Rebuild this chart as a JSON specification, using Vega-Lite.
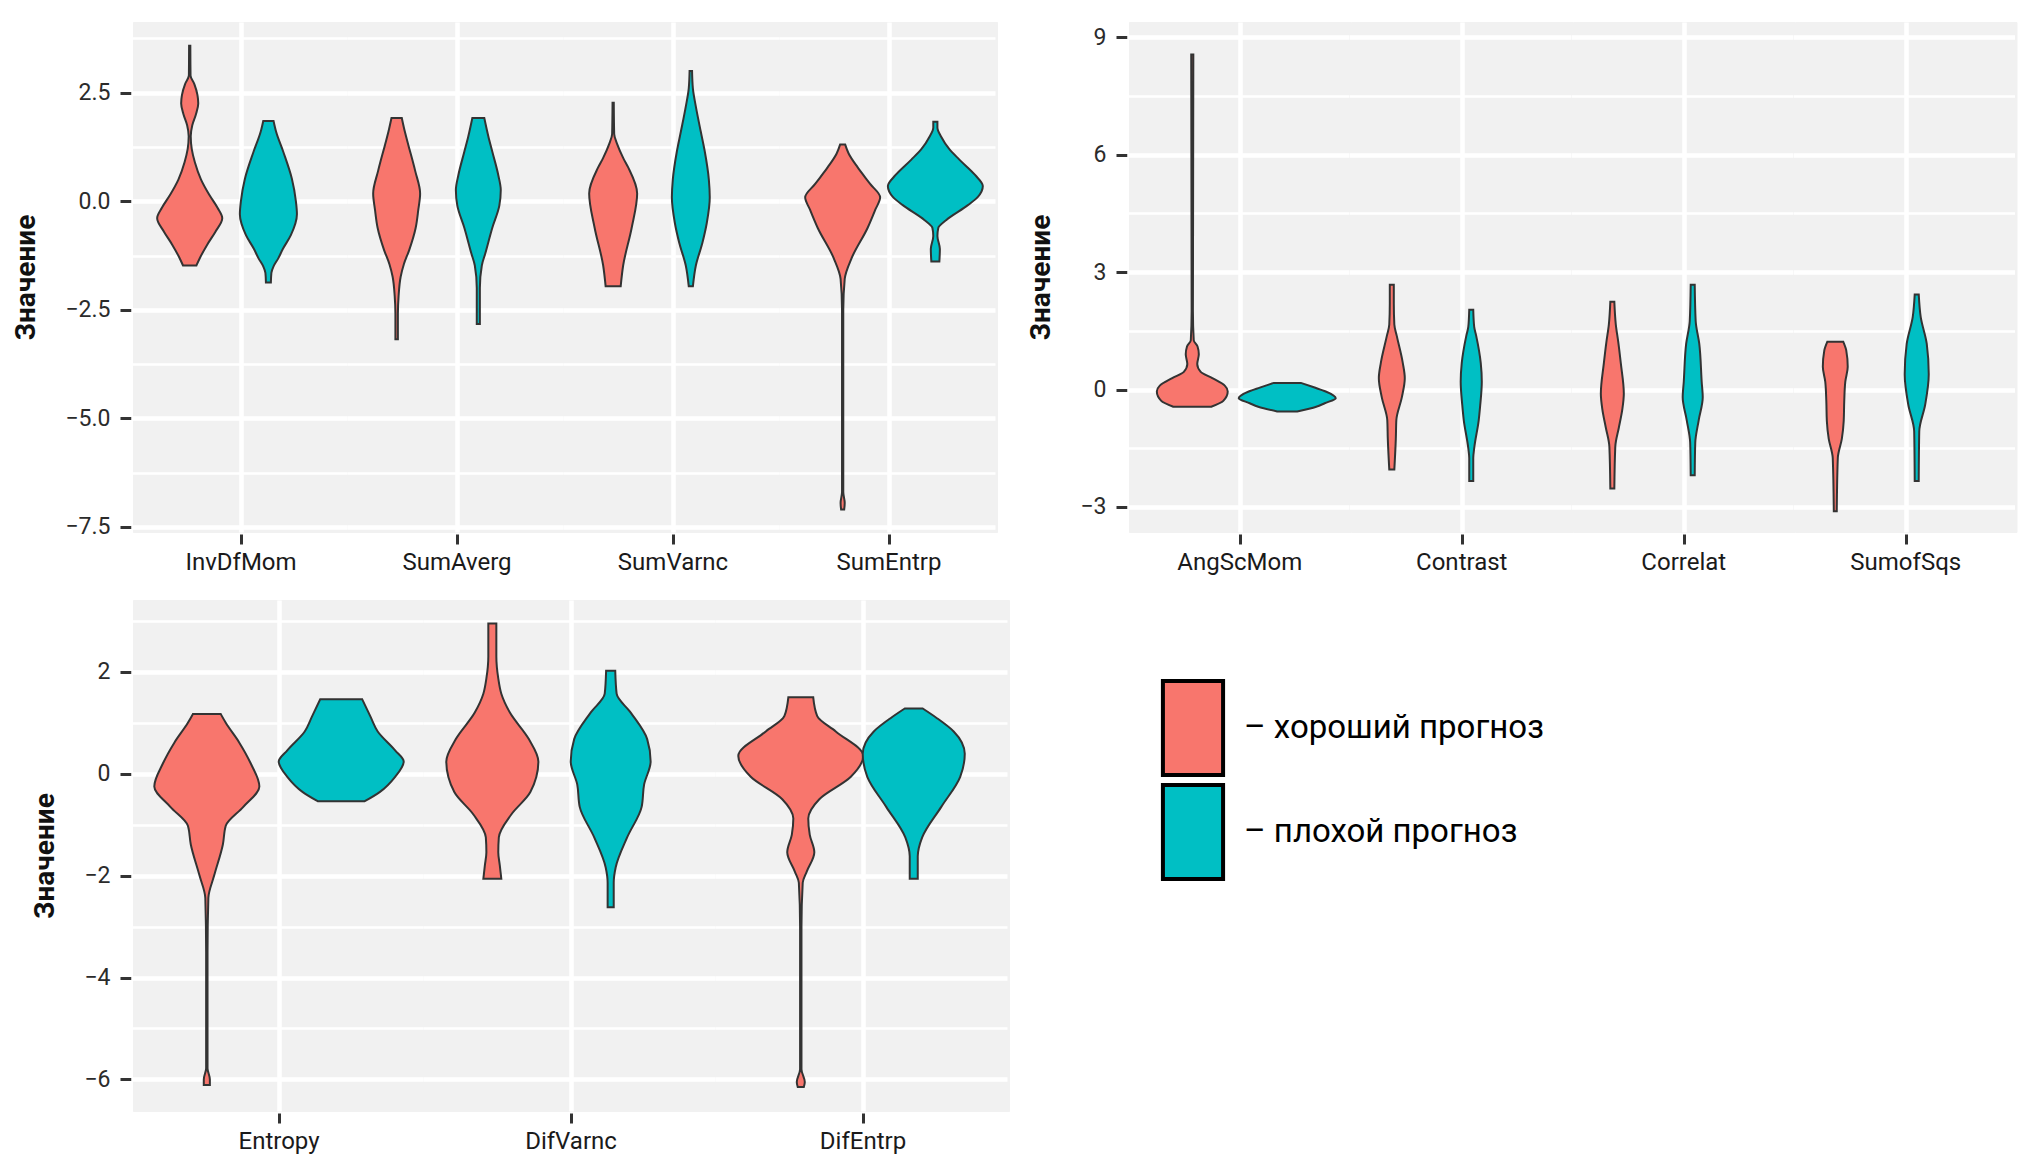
{
  "$schema": "https://vega.github.io/schema/vega-lite/v6.json",
  "background": "white",
  "padding": {"left": 12, "top": 21, "right": 5, "bottom": 5},
  "datasets": {
    "A": [
      {"var":"InvDfMom","grp":"хороший прогноз","v":3.58,"w":0.006},
      {"var":"InvDfMom","grp":"хороший прогноз","v":2.9,"w":0.008},
      {"var":"InvDfMom","grp":"хороший прогноз","v":2.7,"w":0.045},
      {"var":"InvDfMom","grp":"хороший прогноз","v":2.45,"w":0.075},
      {"var":"InvDfMom","grp":"хороший прогноз","v":2.25,"w":0.083},
      {"var":"InvDfMom","grp":"хороший прогноз","v":2.0,"w":0.06},
      {"var":"InvDfMom","grp":"хороший прогноз","v":1.75,"w":0.025},
      {"var":"InvDfMom","grp":"хороший прогноз","v":1.5,"w":0.01},
      {"var":"InvDfMom","grp":"хороший прогноз","v":1.2,"w":0.02},
      {"var":"InvDfMom","grp":"хороший прогноз","v":0.9,"w":0.05},
      {"var":"InvDfMom","grp":"хороший прогноз","v":0.5,"w":0.11},
      {"var":"InvDfMom","grp":"хороший прогноз","v":0.15,"w":0.19},
      {"var":"InvDfMom","grp":"хороший прогноз","v":-0.15,"w":0.27},
      {"var":"InvDfMom","grp":"хороший прогноз","v":-0.39,"w":0.316},
      {"var":"InvDfMom","grp":"хороший прогноз","v":-0.7,"w":0.25},
      {"var":"InvDfMom","grp":"хороший прогноз","v":-1.0,"w":0.17},
      {"var":"InvDfMom","grp":"хороший прогноз","v":-1.3,"w":0.1},
      {"var":"InvDfMom","grp":"хороший прогноз","v":-1.48,"w":0.065},
      {"var":"InvDfMom","grp":"плохой прогноз","v":1.85,"w":0.05},
      {"var":"InvDfMom","grp":"плохой прогноз","v":1.6,"w":0.075},
      {"var":"InvDfMom","grp":"плохой прогноз","v":1.13,"w":0.146},
      {"var":"InvDfMom","grp":"плохой прогноз","v":0.52,"w":0.228},
      {"var":"InvDfMom","grp":"плохой прогноз","v":0.0,"w":0.267},
      {"var":"InvDfMom","grp":"плохой прогноз","v":-0.3,"w":0.277},
      {"var":"InvDfMom","grp":"плохой прогноз","v":-0.78,"w":0.218},
      {"var":"InvDfMom","grp":"плохой прогноз","v":-1.1,"w":0.14},
      {"var":"InvDfMom","grp":"плохой прогноз","v":-1.31,"w":0.097},
      {"var":"InvDfMom","grp":"плохой прогноз","v":-1.5,"w":0.05},
      {"var":"InvDfMom","grp":"плохой прогноз","v":-1.65,"w":0.029},
      {"var":"InvDfMom","grp":"плохой прогноз","v":-1.87,"w":0.024},
      {"var":"SumAverg","grp":"хороший прогноз","v":1.92,"w":0.05},
      {"var":"SumAverg","grp":"хороший прогноз","v":1.6,"w":0.08},
      {"var":"SumAverg","grp":"хороший прогноз","v":1.31,"w":0.112},
      {"var":"SumAverg","grp":"хороший прогноз","v":0.7,"w":0.18},
      {"var":"SumAverg","grp":"хороший прогноз","v":0.18,"w":0.228},
      {"var":"SumAverg","grp":"хороший прогноз","v":-0.2,"w":0.21},
      {"var":"SumAverg","grp":"хороший прогноз","v":-0.61,"w":0.185},
      {"var":"SumAverg","grp":"хороший прогноз","v":-1.13,"w":0.121},
      {"var":"SumAverg","grp":"хороший прогноз","v":-1.45,"w":0.07},
      {"var":"SumAverg","grp":"хороший прогноз","v":-1.74,"w":0.039},
      {"var":"SumAverg","grp":"хороший прогноз","v":-2.18,"w":0.019},
      {"var":"SumAverg","grp":"хороший прогноз","v":-2.6,"w":0.012},
      {"var":"SumAverg","grp":"хороший прогноз","v":-3.18,"w":0.012},
      {"var":"SumAverg","grp":"плохой прогноз","v":1.92,"w":0.058},
      {"var":"SumAverg","grp":"плохой прогноз","v":1.5,"w":0.097},
      {"var":"SumAverg","grp":"плохой прогноз","v":1.14,"w":0.136},
      {"var":"SumAverg","grp":"плохой прогноз","v":0.6,"w":0.194},
      {"var":"SumAverg","grp":"плохой прогноз","v":0.26,"w":0.218},
      {"var":"SumAverg","grp":"плохой прогноз","v":-0.1,"w":0.204},
      {"var":"SumAverg","grp":"плохой прогноз","v":-0.61,"w":0.136},
      {"var":"SumAverg","grp":"плохой прогноз","v":-1.2,"w":0.068},
      {"var":"SumAverg","grp":"плохой прогноз","v":-1.48,"w":0.034},
      {"var":"SumAverg","grp":"плохой прогноз","v":-2.0,"w":0.015},
      {"var":"SumAverg","grp":"плохой прогноз","v":-2.83,"w":0.015},
      {"var":"SumVarnc","grp":"хороший прогноз","v":2.27,"w":0.006},
      {"var":"SumVarnc","grp":"хороший прогноз","v":1.55,"w":0.01},
      {"var":"SumVarnc","grp":"хороший прогноз","v":1.31,"w":0.04},
      {"var":"SumVarnc","grp":"хороший прогноз","v":1.0,"w":0.097},
      {"var":"SumVarnc","grp":"хороший прогноз","v":0.78,"w":0.146},
      {"var":"SumVarnc","grp":"хороший прогноз","v":0.18,"w":0.233},
      {"var":"SumVarnc","grp":"хороший прогноз","v":-0.61,"w":0.18},
      {"var":"SumVarnc","grp":"хороший прогноз","v":-1.48,"w":0.097},
      {"var":"SumVarnc","grp":"хороший прогноз","v":-1.96,"w":0.073},
      {"var":"SumVarnc","grp":"плохой прогноз","v":3.0,"w":0.012},
      {"var":"SumVarnc","grp":"плохой прогноз","v":2.6,"w":0.02},
      {"var":"SumVarnc","grp":"плохой прогноз","v":2.18,"w":0.049},
      {"var":"SumVarnc","grp":"плохой прогноз","v":1.6,"w":0.097},
      {"var":"SumVarnc","grp":"плохой прогноз","v":1.14,"w":0.136},
      {"var":"SumVarnc","grp":"плохой прогноз","v":0.5,"w":0.175},
      {"var":"SumVarnc","grp":"плохой прогноз","v":0.09,"w":0.184},
      {"var":"SumVarnc","grp":"плохой прогноз","v":-0.5,"w":0.155},
      {"var":"SumVarnc","grp":"плохой прогноз","v":-0.96,"w":0.112},
      {"var":"SumVarnc","grp":"плохой прогноз","v":-1.48,"w":0.049},
      {"var":"SumVarnc","grp":"плохой прогноз","v":-1.96,"w":0.02},
      {"var":"SumEntrp","grp":"хороший прогноз","v":1.31,"w":0.024},
      {"var":"SumEntrp","grp":"хороший прогноз","v":1.1,"w":0.058},
      {"var":"SumEntrp","grp":"хороший прогноз","v":0.78,"w":0.146},
      {"var":"SumEntrp","grp":"хороший прогноз","v":0.4,"w":0.267},
      {"var":"SumEntrp","grp":"хороший прогноз","v":0.09,"w":0.364},
      {"var":"SumEntrp","grp":"хороший прогноз","v":-0.2,"w":0.316},
      {"var":"SumEntrp","grp":"хороший прогноз","v":-0.61,"w":0.243},
      {"var":"SumEntrp","grp":"хороший прогноз","v":-1.31,"w":0.087},
      {"var":"SumEntrp","grp":"хороший прогноз","v":-1.79,"w":0.02},
      {"var":"SumEntrp","grp":"хороший прогноз","v":-2.5,"w":0.006},
      {"var":"SumEntrp","grp":"хороший прогноз","v":-6.7,"w":0.006},
      {"var":"SumEntrp","grp":"хороший прогноз","v":-6.95,"w":0.02},
      {"var":"SumEntrp","grp":"хороший прогноз","v":-7.1,"w":0.015},
      {"var":"SumEntrp","grp":"плохой прогноз","v":1.83,"w":0.02},
      {"var":"SumEntrp","grp":"плохой прогноз","v":1.7,"w":0.02},
      {"var":"SumEntrp","grp":"плохой прогноз","v":1.48,"w":0.058},
      {"var":"SumEntrp","grp":"плохой прогноз","v":1.2,"w":0.136},
      {"var":"SumEntrp","grp":"плохой прогноз","v":0.96,"w":0.233},
      {"var":"SumEntrp","grp":"плохой прогноз","v":0.6,"w":0.388},
      {"var":"SumEntrp","grp":"плохой прогноз","v":0.35,"w":0.461},
      {"var":"SumEntrp","grp":"плохой прогноз","v":0.1,"w":0.413},
      {"var":"SumEntrp","grp":"плохой прогноз","v":-0.09,"w":0.316},
      {"var":"SumEntrp","grp":"плохой прогноз","v":-0.43,"w":0.107},
      {"var":"SumEntrp","grp":"плохой прогноз","v":-0.61,"w":0.029},
      {"var":"SumEntrp","grp":"плохой прогноз","v":-0.8,"w":0.02},
      {"var":"SumEntrp","grp":"плохой прогноз","v":-1.1,"w":0.044},
      {"var":"SumEntrp","grp":"плохой прогноз","v":-1.39,"w":0.039}
    ],
    "B": [
      {"var":"AngScMom","grp":"хороший прогноз","v":8.56,"w":0.01},
      {"var":"AngScMom","grp":"хороший прогноз","v":2.0,"w":0.006},
      {"var":"AngScMom","grp":"хороший прогноз","v":1.26,"w":0.014},
      {"var":"AngScMom","grp":"хороший прогноз","v":1.1,"w":0.05},
      {"var":"AngScMom","grp":"хороший прогноз","v":0.9,"w":0.062},
      {"var":"AngScMom","grp":"хороший прогноз","v":0.65,"w":0.047},
      {"var":"AngScMom","grp":"хороший прогноз","v":0.45,"w":0.08},
      {"var":"AngScMom","grp":"хороший прогноз","v":0.29,"w":0.19},
      {"var":"AngScMom","grp":"хороший прогноз","v":0.1,"w":0.308},
      {"var":"AngScMom","grp":"хороший прогноз","v":-0.05,"w":0.336},
      {"var":"AngScMom","grp":"хороший прогноз","v":-0.29,"w":0.294},
      {"var":"AngScMom","grp":"хороший прогноз","v":-0.44,"w":0.18},
      {"var":"AngScMom","grp":"плохой прогноз","v":0.17,"w":0.128},
      {"var":"AngScMom","grp":"плохой прогноз","v":0.05,"w":0.26},
      {"var":"AngScMom","grp":"плохой прогноз","v":-0.05,"w":0.365},
      {"var":"AngScMom","grp":"плохой прогноз","v":-0.22,"w":0.46},
      {"var":"AngScMom","grp":"плохой прогноз","v":-0.35,"w":0.355},
      {"var":"AngScMom","grp":"плохой прогноз","v":-0.44,"w":0.275},
      {"var":"AngScMom","grp":"плохой прогноз","v":-0.56,"w":0.095},
      {"var":"Contrast","grp":"хороший прогноз","v":2.68,"w":0.019},
      {"var":"Contrast","grp":"хороший прогноз","v":2.2,"w":0.019},
      {"var":"Contrast","grp":"хороший прогноз","v":1.66,"w":0.024},
      {"var":"Contrast","grp":"хороший прогноз","v":1.37,"w":0.047},
      {"var":"Contrast","grp":"хороший прогноз","v":0.68,"w":0.104},
      {"var":"Contrast","grp":"хороший прогноз","v":0.29,"w":0.123},
      {"var":"Contrast","grp":"хороший прогноз","v":-0.2,"w":0.095},
      {"var":"Contrast","grp":"хороший прогноз","v":-0.78,"w":0.043},
      {"var":"Contrast","grp":"хороший прогноз","v":-1.26,"w":0.038},
      {"var":"Contrast","grp":"хороший прогноз","v":-2.04,"w":0.024},
      {"var":"Contrast","grp":"плохой прогноз","v":2.04,"w":0.019},
      {"var":"Contrast","grp":"плохой прогноз","v":1.6,"w":0.028},
      {"var":"Contrast","grp":"плохой прогноз","v":1.37,"w":0.047},
      {"var":"Contrast","grp":"плохой прогноз","v":0.68,"w":0.09},
      {"var":"Contrast","grp":"плохой прогноз","v":0.2,"w":0.1},
      {"var":"Contrast","grp":"плохой прогноз","v":-0.4,"w":0.085},
      {"var":"Contrast","grp":"плохой прогноз","v":-0.78,"w":0.071},
      {"var":"Contrast","grp":"плохой прогноз","v":-1.5,"w":0.028},
      {"var":"Contrast","grp":"плохой прогноз","v":-1.75,"w":0.019},
      {"var":"Contrast","grp":"плохой прогноз","v":-2.34,"w":0.019},
      {"var":"Correlat","grp":"хороший прогноз","v":2.24,"w":0.019},
      {"var":"Correlat","grp":"хороший прогноз","v":1.66,"w":0.033},
      {"var":"Correlat","grp":"хороший прогноз","v":1.2,"w":0.057},
      {"var":"Correlat","grp":"хороший прогноз","v":0.68,"w":0.08},
      {"var":"Correlat","grp":"хороший прогноз","v":-0.1,"w":0.109},
      {"var":"Correlat","grp":"хороший прогноз","v":-0.5,"w":0.095},
      {"var":"Correlat","grp":"хороший прогноз","v":-0.97,"w":0.062},
      {"var":"Correlat","grp":"хороший прогноз","v":-1.46,"w":0.028},
      {"var":"Correlat","grp":"хороший прогноз","v":-2.53,"w":0.019},
      {"var":"Correlat","grp":"плохой прогноз","v":2.68,"w":0.019},
      {"var":"Correlat","grp":"плохой прогноз","v":1.75,"w":0.028},
      {"var":"Correlat","grp":"плохой прогноз","v":1.17,"w":0.062},
      {"var":"Correlat","grp":"плохой прогноз","v":0.2,"w":0.085},
      {"var":"Correlat","grp":"плохой прогноз","v":-0.2,"w":0.095},
      {"var":"Correlat","grp":"плохой прогноз","v":-0.78,"w":0.057},
      {"var":"Correlat","grp":"плохой прогноз","v":-1.36,"w":0.024},
      {"var":"Correlat","grp":"плохой прогноз","v":-2.19,"w":0.019},
      {"var":"SumofSqs","grp":"хороший прогноз","v":1.22,"w":0.076},
      {"var":"SumofSqs","grp":"хороший прогноз","v":1.0,"w":0.104},
      {"var":"SumofSqs","grp":"хороший прогноз","v":0.58,"w":0.118},
      {"var":"SumofSqs","grp":"хороший прогноз","v":0.2,"w":0.095},
      {"var":"SumofSqs","grp":"хороший прогноз","v":-0.29,"w":0.085},
      {"var":"SumofSqs","grp":"хороший прогноз","v":-0.8,"w":0.08},
      {"var":"SumofSqs","grp":"хороший прогноз","v":-1.26,"w":0.062},
      {"var":"SumofSqs","grp":"хороший прогноз","v":-1.75,"w":0.024},
      {"var":"SumofSqs","grp":"хороший прогноз","v":-3.11,"w":0.014},
      {"var":"SumofSqs","grp":"плохой прогноз","v":2.43,"w":0.019},
      {"var":"SumofSqs","grp":"плохой прогноз","v":1.85,"w":0.038},
      {"var":"SumofSqs","grp":"плохой прогноз","v":1.17,"w":0.095},
      {"var":"SumofSqs","grp":"плохой прогноз","v":0.39,"w":0.114},
      {"var":"SumofSqs","grp":"плохой прогноз","v":-0.39,"w":0.08},
      {"var":"SumofSqs","grp":"плохой прогноз","v":-1.07,"w":0.024},
      {"var":"SumofSqs","grp":"плохой прогноз","v":-2.34,"w":0.019}
    ],
    "C": [
      {"var":"Entropy","grp":"хороший прогноз","v":1.17,"w":0.101},
      {"var":"Entropy","grp":"хороший прогноз","v":1.0,"w":0.137},
      {"var":"Entropy","grp":"хороший прогноз","v":0.61,"w":0.235},
      {"var":"Entropy","grp":"хороший прогноз","v":0.2,"w":0.318},
      {"var":"Entropy","grp":"хороший прогноз","v":-0.25,"w":0.38},
      {"var":"Entropy","grp":"хороший прогноз","v":-0.65,"w":0.264},
      {"var":"Entropy","grp":"хороший прогноз","v":-1.02,"w":0.137},
      {"var":"Entropy","grp":"хороший прогноз","v":-1.39,"w":0.116},
      {"var":"Entropy","grp":"хороший прогноз","v":-1.99,"w":0.054},
      {"var":"Entropy","grp":"хороший прогноз","v":-2.44,"w":0.011},
      {"var":"Entropy","grp":"хороший прогноз","v":-3.5,"w":0.005},
      {"var":"Entropy","grp":"хороший прогноз","v":-5.78,"w":0.005},
      {"var":"Entropy","grp":"хороший прогноз","v":-6.0,"w":0.022},
      {"var":"Entropy","grp":"хороший прогноз","v":-6.11,"w":0.022},
      {"var":"Entropy","grp":"плохой прогноз","v":1.46,"w":0.152},
      {"var":"Entropy","grp":"плохой прогноз","v":1.13,"w":0.21},
      {"var":"Entropy","grp":"плохой прогноз","v":0.83,"w":0.264},
      {"var":"Entropy","grp":"плохой прогноз","v":0.46,"w":0.39},
      {"var":"Entropy","grp":"плохой прогноз","v":0.24,"w":0.452},
      {"var":"Entropy","grp":"плохой прогноз","v":-0.06,"w":0.39},
      {"var":"Entropy","grp":"плохой прогноз","v":-0.36,"w":0.278},
      {"var":"Entropy","grp":"плохой прогноз","v":-0.54,"w":0.17},
      {"var":"DifVarnc","grp":"хороший прогноз","v":2.95,"w":0.029},
      {"var":"DifVarnc","grp":"хороший прогноз","v":2.3,"w":0.029},
      {"var":"DifVarnc","grp":"хороший прогноз","v":1.87,"w":0.043},
      {"var":"DifVarnc","grp":"хороший прогноз","v":1.57,"w":0.065},
      {"var":"DifVarnc","grp":"хороший прогноз","v":1.2,"w":0.127},
      {"var":"DifVarnc","grp":"хороший прогноз","v":0.68,"w":0.264},
      {"var":"DifVarnc","grp":"хороший прогноз","v":0.24,"w":0.333},
      {"var":"DifVarnc","grp":"хороший прогноз","v":-0.36,"w":0.275},
      {"var":"DifVarnc","grp":"хороший прогноз","v":-0.8,"w":0.137},
      {"var":"DifVarnc","grp":"хороший прогноз","v":-1.25,"w":0.047},
      {"var":"DifVarnc","grp":"хороший прогноз","v":-1.54,"w":0.043},
      {"var":"DifVarnc","grp":"хороший прогноз","v":-1.8,"w":0.054},
      {"var":"DifVarnc","grp":"хороший прогноз","v":-2.06,"w":0.065},
      {"var":"DifVarnc","grp":"плохой прогноз","v":2.02,"w":0.033},
      {"var":"DifVarnc","grp":"плохой прогноз","v":1.57,"w":0.043},
      {"var":"DifVarnc","grp":"плохой прогноз","v":1.2,"w":0.145},
      {"var":"DifVarnc","grp":"плохой прогноз","v":0.68,"w":0.264},
      {"var":"DifVarnc","grp":"плохой прогноз","v":0.24,"w":0.289},
      {"var":"DifVarnc","grp":"плохой прогноз","v":-0.21,"w":0.242},
      {"var":"DifVarnc","grp":"плохой прогноз","v":-0.65,"w":0.224},
      {"var":"DifVarnc","grp":"плохой прогноз","v":-1.25,"w":0.119},
      {"var":"DifVarnc","grp":"плохой прогноз","v":-1.84,"w":0.036},
      {"var":"DifVarnc","grp":"плохой прогноз","v":-2.14,"w":0.022},
      {"var":"DifVarnc","grp":"плохой прогноз","v":-2.62,"w":0.022},
      {"var":"DifEntrp","grp":"хороший прогноз","v":1.5,"w":0.09},
      {"var":"DifEntrp","grp":"хороший прогноз","v":1.13,"w":0.119},
      {"var":"DifEntrp","grp":"хороший прогноз","v":0.83,"w":0.253},
      {"var":"DifEntrp","grp":"хороший прогноз","v":0.35,"w":0.452},
      {"var":"DifEntrp","grp":"хороший прогноз","v":-0.06,"w":0.362},
      {"var":"DifEntrp","grp":"хороший прогноз","v":-0.5,"w":0.134},
      {"var":"DifEntrp","grp":"хороший прогноз","v":-0.88,"w":0.054},
      {"var":"DifEntrp","grp":"хороший прогноз","v":-1.2,"w":0.065},
      {"var":"DifEntrp","grp":"хороший прогноз","v":-1.54,"w":0.098},
      {"var":"DifEntrp","grp":"хороший прогноз","v":-1.92,"w":0.043},
      {"var":"DifEntrp","grp":"хороший прогноз","v":-2.14,"w":0.014},
      {"var":"DifEntrp","grp":"хороший прогноз","v":-3.0,"w":0.005},
      {"var":"DifEntrp","grp":"хороший прогноз","v":-5.8,"w":0.005},
      {"var":"DifEntrp","grp":"хороший прогноз","v":-6.05,"w":0.029},
      {"var":"DifEntrp","grp":"хороший прогноз","v":-6.15,"w":0.022},
      {"var":"DifEntrp","grp":"плохой прогноз","v":1.28,"w":0.065},
      {"var":"DifEntrp","grp":"плохой прогноз","v":1.1,"w":0.163},
      {"var":"DifEntrp","grp":"плохой прогноз","v":0.83,"w":0.289},
      {"var":"DifEntrp","grp":"плохой прогноз","v":0.39,"w":0.369},
      {"var":"DifEntrp","grp":"плохой прогноз","v":-0.06,"w":0.336},
      {"var":"DifEntrp","grp":"плохой прогноз","v":-0.65,"w":0.199},
      {"var":"DifEntrp","grp":"плохой прогноз","v":-1.25,"w":0.061},
      {"var":"DifEntrp","grp":"плохой прогноз","v":-1.62,"w":0.029},
      {"var":"DifEntrp","grp":"плохой прогноз","v":-2.06,"w":0.029}
    ]
  },
  "columns": 1,
  "align": "none",
  "spacing": 24,
  "concat": [
    {
      "spacing": 29,
      "hconcat": [
        {
          "data": {"name": "A"},
          "facet": {"column": {"field": "var", "type": "nominal", "title": null, "sort": ["InvDfMom","SumAverg","SumVarnc","SumEntrp"]}},
          "spacing": 0,
          "bounds": "flush",
          "resolve": {"scale": {"x": "independent"}, "axis": {"x": "independent"}},
          "spec": {
            "width": 216, "height": 510,
            "layer": [
              {
                "transform": [{"filter": "datum.grp === 'хороший прогноз'"}],
                "mark": {"type": "area", "orient": "horizontal", "interpolate": "monotone", "stroke": "#333333", "strokeWidth": 2, "opacity": 1, "clip": true},
                "encoding": {
                  "y": {"field": "v", "type": "quantitative", "scale": {"domain": [-7.62, 4.13], "nice": false, "zero": false},
                        "axis": {"values": [-7.5,-6.25,-5,-3.75,-2.5,-1.25,0,1.25,2.5,3.75], "format": ".1f", "labelExpr": "datum.value % 2.5 == 0 ? datum.label : ''", "title": "Значение",
                                 "tickOpacity": {"condition": {"test": "datum.value % 2.5 == 0", "value": 1}, "value": 0},
                                 "gridWidth": {"condition": {"test": "datum.value % 2.5 == 0", "value": 4.5}, "value": 2.5}}},
                  "x": {"field": "w", "type": "quantitative", "stack": "center", "scale": {"domain": [-0.1173, 0.9313], "nice": false, "zero": false},
                        "axis": {"values": [0.407], "labels": false, "title": null, "domain": false, "offset": 2, "tickSize": 10}},
                  "color": {"field": "grp", "type": "nominal", "scale": {"domain": ["хороший прогноз","плохой прогноз"], "range": ["#F8766D","#00BFC4"]}}
                }
              },
              {
                "transform": [{"filter": "datum.grp === 'плохой прогноз'"}],
                "mark": {"type": "area", "orient": "horizontal", "interpolate": "monotone", "stroke": "#333333", "strokeWidth": 2, "opacity": 1, "clip": true},
                "encoding": {
                  "y": {"field": "v", "type": "quantitative", "scale": {"domain": [-7.62, 4.13], "nice": false, "zero": false},
                        "axis": {"values": [-7.5,-6.25,-5,-3.75,-2.5,-1.25,0,1.25,2.5,3.75], "format": ".1f", "labelExpr": "datum.value % 2.5 == 0 ? datum.label : ''", "title": "Значение",
                                 "tickOpacity": {"condition": {"test": "datum.value % 2.5 == 0", "value": 1}, "value": 0},
                                 "gridWidth": {"condition": {"test": "datum.value % 2.5 == 0", "value": 4.5}, "value": 2.5}}},
                  "x": {"field": "w", "type": "quantitative", "stack": "center", "scale": {"domain": [-0.5188, 0.5298], "nice": false, "zero": false}, "axis": null},
                  "color": {"field": "grp", "type": "nominal", "scale": {"domain": ["хороший прогноз","плохой прогноз"], "range": ["#F8766D","#00BFC4"]}}
                }
              }
            ],
            "resolve": {"scale": {"x": "independent"}}
          }
        },
        {
          "data": {"name": "B"},
          "facet": {"column": {"field": "var", "type": "nominal", "title": null, "sort": ["AngScMom","Contrast","Correlat","SumofSqs"]}},
          "spacing": 0,
          "bounds": "flush",
          "resolve": {"scale": {"x": "independent"}, "axis": {"x": "independent"}},
          "spec": {
            "width": 221.5, "height": 510,
            "layer": [
              {
                "transform": [{"filter": "datum.grp === 'хороший прогноз'"}],
                "mark": {"type": "area", "orient": "horizontal", "interpolate": "monotone", "stroke": "#333333", "strokeWidth": 2, "opacity": 1, "clip": true},
                "encoding": {
                  "y": {"field": "v", "type": "quantitative", "scale": {"domain": [-3.64, 9.39], "nice": false, "zero": false},
                        "axis": {"values": [-3,-1.5,0,1.5,3,4.5,6,7.5,9], "format": "d", "labelExpr": "datum.value % 3 == 0 ? datum.label : ''", "title": "Значение",
                                 "tickOpacity": {"condition": {"test": "datum.value % 3 == 0", "value": 1}, "value": 0},
                                 "gridWidth": {"condition": {"test": "datum.value % 3 == 0", "value": 4.5}, "value": 2.5}}},
                  "x": {"field": "w", "type": "quantitative", "stack": "center", "scale": {"domain": [-0.1319, 0.9179], "nice": false, "zero": false},
                        "axis": {"values": [0.393], "labels": false, "title": null, "domain": false, "offset": 2, "tickSize": 10}},
                  "color": {"field": "grp", "type": "nominal", "scale": {"domain": ["хороший прогноз","плохой прогноз"], "range": ["#F8766D","#00BFC4"]}}
                }
              },
              {
                "transform": [{"filter": "datum.grp === 'плохой прогноз'"}],
                "mark": {"type": "area", "orient": "horizontal", "interpolate": "monotone", "stroke": "#333333", "strokeWidth": 2, "opacity": 1, "clip": true},
                "encoding": {
                  "y": {"field": "v", "type": "quantitative", "scale": {"domain": [-3.64, 9.39], "nice": false, "zero": false},
                        "axis": {"values": [-3,-1.5,0,1.5,3,4.5,6,7.5,9], "format": "d", "labelExpr": "datum.value % 3 == 0 ? datum.label : ''", "title": "Значение",
                                 "tickOpacity": {"condition": {"test": "datum.value % 3 == 0", "value": 1}, "value": 0},
                                 "gridWidth": {"condition": {"test": "datum.value % 3 == 0", "value": 4.5}, "value": 2.5}}},
                  "x": {"field": "w", "type": "quantitative", "stack": "center", "scale": {"domain": [-0.5199, 0.5299], "nice": false, "zero": false}, "axis": null},
                  "color": {"field": "grp", "type": "nominal", "scale": {"domain": ["хороший прогноз","плохой прогноз"], "range": ["#F8766D","#00BFC4"]}}
                }
              }
            ],
            "resolve": {"scale": {"x": "independent"}}
          }
        }
      ]
    },
    {
      "data": {"name": "C"},
      "facet": {"column": {"field": "var", "type": "nominal", "title": null, "sort": ["Entropy","DifVarnc","DifEntrp"]}},
      "spacing": 0,
      "bounds": "flush",
      "resolve": {"scale": {"x": "independent"}, "axis": {"x": "independent"}},
      "spec": {
        "width": 292, "height": 511,
        "layer": [
          {
            "transform": [{"filter": "datum.grp === 'хороший прогноз'"}],
            "mark": {"type": "area", "orient": "horizontal", "interpolate": "monotone", "stroke": "#333333", "strokeWidth": 2, "opacity": 1, "clip": true},
            "encoding": {
              "y": {"field": "v", "type": "quantitative", "scale": {"domain": [-6.62, 3.41], "nice": false, "zero": false},
                    "axis": {"values": [-6,-5,-4,-3,-2,-1,0,1,2,3], "format": "d", "labelExpr": "datum.value % 2 == 0 ? datum.label : ''", "title": "Значение",
                             "tickOpacity": {"condition": {"test": "datum.value % 2 == 0", "value": 1}, "value": 0},
                             "gridWidth": {"condition": {"test": "datum.value % 2 == 0", "value": 4.5}, "value": 2.5}}},
              "x": {"field": "w", "type": "quantitative", "stack": "center", "scale": {"domain": [-0.077, 0.979], "nice": false, "zero": false},
                    "axis": {"values": [0.451], "labels": false, "title": null, "domain": false, "offset": 2, "tickSize": 10}},
              "color": {"field": "grp", "type": "nominal", "scale": {"domain": ["хороший прогноз","плохой прогноз"], "range": ["#F8766D","#00BFC4"]},
                        "legend": {"orient": "none", "legendX": 1011, "legendY": 657, "title": null, "padding": 0, "rowPadding": -17,
                                   "symbolType": "M-0.64,-1H0.64V1H-0.64Z", "symbolSize": 8836, "symbolStrokeColor": "black", "symbolStrokeWidth": 4, "symbolOpacity": 1,
                                   "labelExpr": "'– ' + datum.label", "labelFontSize": 33, "labelColor": "black", "labelOffset": 2, "labelLimit": 500,
                                   "encode": {"symbols": {"update": {"stroke": {"value": "black"}, "strokeWidth": {"value": 4}, "opacity": {"value": 1}}}}}}
            }
          },
          {
            "transform": [{"filter": "datum.grp === 'плохой прогноз'"}],
            "mark": {"type": "area", "orient": "horizontal", "interpolate": "monotone", "stroke": "#333333", "strokeWidth": 2, "opacity": 1, "clip": true},
            "encoding": {
              "y": {"field": "v", "type": "quantitative", "scale": {"domain": [-6.62, 3.41], "nice": false, "zero": false},
                    "axis": {"values": [-6,-5,-4,-3,-2,-1,0,1,2,3], "format": "d", "labelExpr": "datum.value % 2 == 0 ? datum.label : ''", "title": "Значение",
                             "tickOpacity": {"condition": {"test": "datum.value % 2 == 0", "value": 1}, "value": 0},
                             "gridWidth": {"condition": {"test": "datum.value % 2 == 0", "value": 4.5}, "value": 2.5}}},
              "x": {"field": "w", "type": "quantitative", "stack": "center", "scale": {"domain": [-0.527, 0.529], "nice": false, "zero": false}, "axis": null},
              "color": {"field": "grp", "type": "nominal", "scale": {"domain": ["хороший прогноз","плохой прогноз"], "range": ["#F8766D","#00BFC4"]}}
            }
          }
        ],
        "resolve": {"scale": {"x": "independent"}}
      }
    }
  ],
  "config": {
    "font": "Roboto",
    "view": {"fill": "#F1F1F1", "stroke": "#F1F1F1", "strokeWidth": 1},
    "axis": {"grid": true, "gridColor": "white", "domain": false, "tickColor": "#333333", "tickWidth": 3, "tickSize": 11,
             "labelFontSize": 23, "labelColor": "#2b2b2b", "labelPadding": 10, "titleFontSize": 28, "titleFontWeight": "bold", "titleColor": "#111111"},
    "axisX": {"gridWidth": 4.5},
    "axisY": {"offset": 2, "titlePadding": 24},
    "header": {"labelOrient": "bottom", "labelFontSize": 24, "labelColor": "#1a1a1a", "labelPadding": 19, "titleOrient": "bottom"},
    "legend": {"labelFont": "Roboto"}
  }
}
